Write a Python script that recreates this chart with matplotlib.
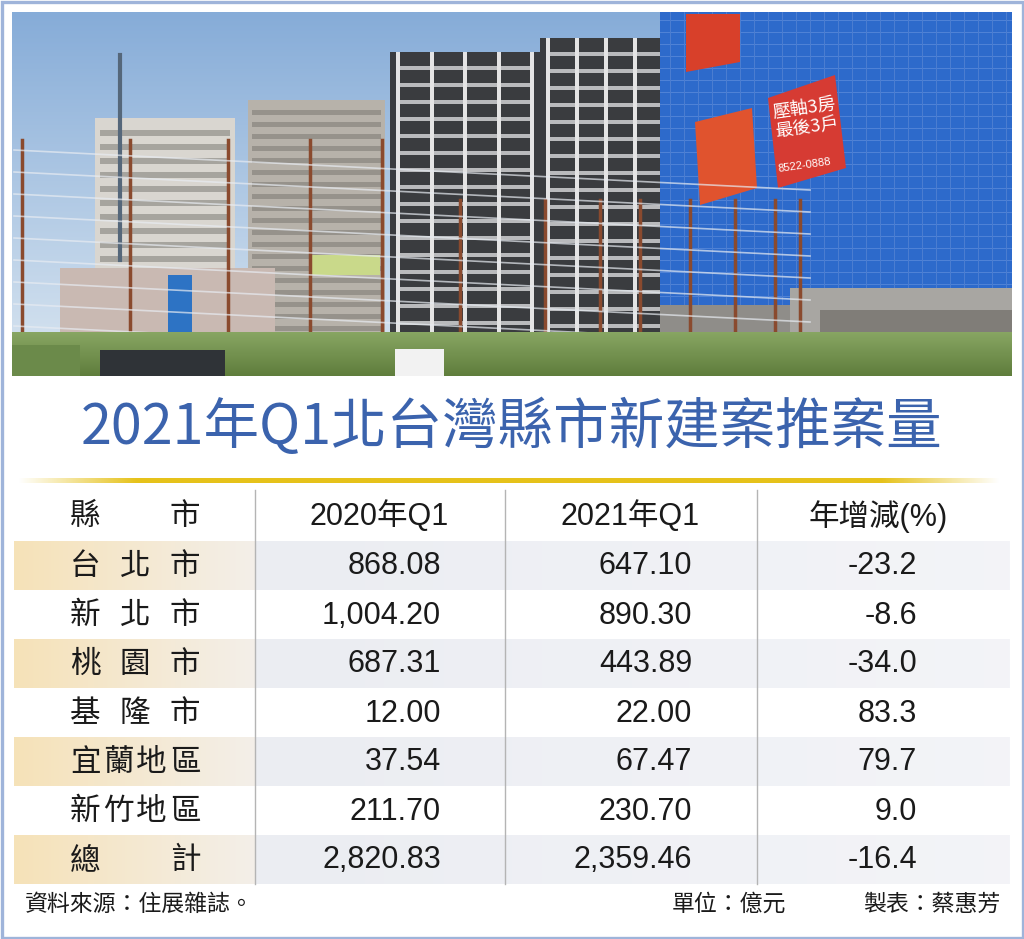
import numpy as np
import matplotlib
matplotlib.use("Agg")
import matplotlib.pyplot as plt
from matplotlib.patches import Rectangle, Polygon

# table data (億元)
regions = ['台北市', '新北市', '桃園市', '基隆市', '宜蘭地區', '新竹地區', '總計']
q1_2020 = [868.08, 1004.20, 687.31, 12.00, 37.54, 211.70, 2820.83]
q1_2021 = [647.10, 890.30, 443.89, 22.00, 67.47, 230.70, 2359.46]
yoy_pct = [-23.2, -8.6, -34.0, 83.3, 79.7, 9.0, -16.4]

headers = ['縣市', '2020年Q1', '2021年Q1', '年增減(%)']
title = '2021年Q1北台灣縣市新建案推案量'
source = '資料來源：住展雜誌。'
unit = '單位：億元'
maker = '製表：蔡惠芳'

CJK = ['Noto Sans CJK TC', 'DejaVu Sans']
NUM = ['Liberation Sans', 'Noto Sans CJK TC']

W, H = 1024, 939
fig = plt.figure(figsize=(W / 100, H / 100), dpi=100)
ax = fig.add_axes([0, 0, 1, 1])
ax.set_xlim(0, W)
ax.set_ylim(H, 0)
ax.axis('off')


def rect(x0, y0, x1, y1, color, z=1, **kw):
    ax.add_patch(Rectangle((x0, y0), x1 - x0, y1 - y0, facecolor=color,
                           edgecolor='none', zorder=z, **kw))


def hgrad(x0, y0, x1, y1, c0, c1, z=1, a0=1.0, a1=1.0):
    n = 256
    t = np.linspace(0, 1, n)
    c0 = np.array(matplotlib.colors.to_rgb(c0))
    c1 = np.array(matplotlib.colors.to_rgb(c1))
    img = np.zeros((1, n, 4))
    img[0, :, :3] = c0[None, :] * (1 - t[:, None]) + c1[None, :] * t[:, None]
    img[0, :, 3] = a0 * (1 - t) + a1 * t
    ax.imshow(img, extent=(x0, x1, y1, y0), aspect='auto', zorder=z,
              interpolation='bilinear')


def vgrad(x0, y0, x1, y1, c0, c1, z=1):
    n = 256
    t = np.linspace(0, 1, n)
    c0 = np.array(matplotlib.colors.to_rgb(c0))
    c1 = np.array(matplotlib.colors.to_rgb(c1))
    img = c0[None, :] * (1 - t[:, None]) + c1[None, :] * t[:, None]
    ax.imshow(img[:, None, :], extent=(x0, x1, y1, y0), aspect='auto',
              zorder=z, interpolation='bilinear')


# ---- photo (rough sketch of the construction site) ----
px0, py0, px1, py1 = 12, 12, 1012, 376
vgrad(px0, py0, px1, 350, '#86acd8', '#d4e2ef', z=1)
# back buildings
rect(95, 118, 235, 345, '#d9d6d0', z=2)
for yy in range(130, 340, 14):
    rect(100, yy, 230, yy + 6, '#a6a49e', z=2)
rect(248, 100, 385, 345, '#b7b2aa', z=2)
for yy in range(110, 340, 12):
    rect(252, yy, 381, yy + 5, '#96928b', z=2)
ax.plot([120, 120], [55, 260], color='#55677a', lw=3, zorder=2)
rect(60, 268, 275, 350, '#c9b9b2', z=3)
rect(168, 275, 192, 340, '#2d73c4', z=3)
rect(310, 255, 380, 275, '#c9d98a', z=3)
# dark towers
for x0, x1, y0 in [(390, 540, 52), (540, 672, 38)]:
    rect(x0, y0, x1, 345, '#3a3c3f', z=3)
    for yy in range(y0 + 14, 340, 17):
        rect(x0 + 6, yy, x1 - 6, yy + 4, '#b9babc', z=3)
    for xx in np.linspace(x0 + 8, x1 - 8, 5):
        rect(xx - 2, y0, xx + 2, 345, '#e4e4e4', z=3)
# blue tower
rect(660, 12, 1012, 305, '#2d6acb', z=4)
for yy in range(20, 300, 12):
    rect(660, yy, 1012, yy + 1.2, '#4f82d6', z=4)
for xx in range(670, 1012, 14):
    rect(xx, 12, xx + 1.2, 305, '#4b7dd0', z=4)
rect(790, 288, 1012, 345, '#a8a6a2', z=4)
rect(820, 310, 1012, 345, '#807d78', z=4)
rect(660, 300, 800, 345, '#8f8d89', z=3)
ax.add_patch(Polygon([[686, 14], [740, 14], [740, 62], [686, 72]],
                     closed=True, facecolor='#d8402a', edgecolor='none', zorder=5))
ax.add_patch(Polygon([[695, 122], [752, 108], [757, 188], [700, 205]],
                     closed=True, facecolor='#e0532e', edgecolor='none', zorder=5))
ax.add_patch(Polygon([[768, 98], [835, 75], [846, 168], [778, 188]],
                     closed=True, facecolor='#d63b33', edgecolor='none', zorder=5))
ax.text(806, 118, '壓軸3房\n最後3戶', family=CJK, fontsize=13, color='white',
        ha='center', va='center', rotation=8, zorder=6, linespacing=1.1)
ax.text(805, 165, '8522-0888', family=NUM, fontsize=8, color='white',
        ha='center', va='center', rotation=8, zorder=6)
# fence poles and wires
for xx in [22, 130, 228, 310, 382, 460, 545, 600, 640, 690, 735, 775, 800]:
    ax.plot([xx, xx], [140 if xx < 400 else 200, 362], color='#8a4a2e', lw=2.5, zorder=6)
for yy in range(150, 340, 22):
    ax.plot([14, 810], [yy, yy + 40], color='#e8ecf2', lw=1.2, alpha=0.7, zorder=6)
# grass, car
vgrad(px0, 332, px1, py1, '#88a663', '#5f7d3c', z=7)
rect(12, 345, 80, 376, '#6b8a4a', z=7)
rect(100, 350, 225, 376, '#2f3337', z=8)
rect(395, 349, 444, 376, '#f2f2f2', z=8)

# ---- outer frame ----
ax.add_patch(Rectangle((1.5, 1.5), W - 3, H - 3, facecolor='none',
                       edgecolor='#9fb4da', lw=2.4, zorder=20))

# ---- title and gold rule ----
ax.text(512, 428, title, family=CJK, fontsize=40, color='#3b63ad',
        ha='center', va='center', weight='medium', zorder=10)
n = 512
t = np.linspace(0, 1, n)
alpha = np.clip(np.minimum(t / 0.12, (1 - t) / 0.12), 0, 1)
gold = np.zeros((1, n, 4))
gold[0, :, :3] = matplotlib.colors.to_rgb('#e6c21a')
gold[0, :, 3] = alpha
ax.imshow(gold, extent=(18, 1000, 483, 478), aspect='auto', zorder=10,
          interpolation='bilinear')

# ---- table ----
col_sep = [255, 505, 757]
num_right = [441, 692, 917]
hdr_y0 = 490
row_h = 49
first_row = 541
lbl_x0, lbl_x1 = 85, 185
txt_size = 22


def spread_label(label, yc, size):
    chars = list(label)
    xs = np.linspace(lbl_x0, lbl_x1, len(chars))
    for ch, xx in zip(chars, xs):
        ax.text(xx, yc, ch, family=CJK, fontsize=size, color='#1a1a1a',
                ha='center', va='center', zorder=12)


# header
hy = (hdr_y0 + first_row) / 2 + 1
spread_label(headers[0], hy, txt_size)
for hx, lab in zip([379, 630, 878], headers[1:]):
    ax.text(hx, hy, lab, family=NUM, fontsize=txt_size, color='#1a1a1a',
            ha='center', va='center', zorder=12)

for i, reg in enumerate(regions):
    y0 = first_row + i * row_h
    y1 = y0 + row_h
    yc = (y0 + y1) / 2
    if i % 2 == 0:
        hgrad(14, y0, col_sep[0], y1, '#f6e2b8', '#f3efe9', z=2)
        hgrad(col_sep[0], y0, 1010, y1, '#ebedf2', '#eff0f5', z=2,
              a0=1.0, a1=0.7)
    spread_label(reg, yc + 1, txt_size)
    vals = [f'{q1_2020[i]:,.2f}', f'{q1_2021[i]:,.2f}', f'{yoy_pct[i]:.1f}']
    for xr, v in zip(num_right, vals):
        ax.text(xr, yc + 1, v, family=NUM, fontsize=txt_size, color='#1a1a1a',
                ha='right', va='center', zorder=12)

tbl_bottom = first_row + len(regions) * row_h
for xs in col_sep:
    ax.plot([xs, xs], [hdr_y0, tbl_bottom], color='#b4b4b4', lw=1.0, zorder=11)

# ---- footer ----
fy = 904
ax.text(25, fy, source, family=CJK, fontsize=16.5, color='#1a1a1a',
        ha='left', va='center', zorder=12)
ax.text(786, fy, unit, family=CJK, fontsize=16.5, color='#1a1a1a',
        ha='right', va='center', zorder=12)
ax.text(1000, fy, maker, family=CJK, fontsize=16.5, color='#1a1a1a',
        ha='right', va='center', zorder=12)

fig.savefig('out.png', dpi=100)
